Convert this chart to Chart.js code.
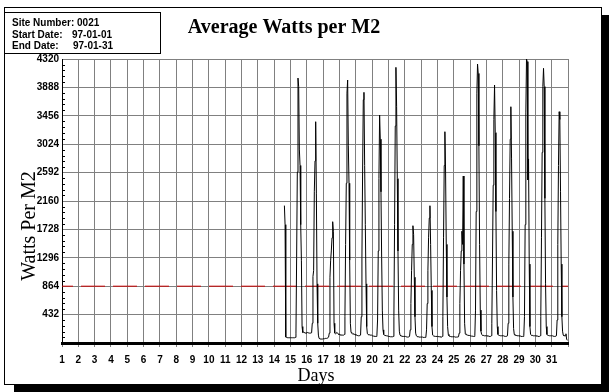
<!DOCTYPE html>
<html>
<head>
<meta charset="utf-8">
<script src="https://cdn.jsdelivr.net/npm/chart.js@4/dist/chart.umd.min.js"></script>
<style>
html,body{margin:0;padding:0;background:#fff;}
canvas{display:block;}
</style>
</head>
<body>
<canvas id="c" width="609" height="392"></canvas>
<script>
// ---- data (hourly averages, W/m2) ----
const chartTitle = "Average Watts per M2";
const yAxisTitle = "Watts Per M2";
const xAxisTitle = "Days";
const siteNumber = "0021";
const startDate = "97-01-01";
const endDate = "97-01-31";
const yTickValues = [432, 864, 1296, 1728, 2160, 2592, 3024, 3456, 3888, 4320];
const dayLabels = [1,2,3,4,5,6,7,8,9,10,11,12,13,14,15,16,17,18,19,20,21,22,23,24,25,26,27,28,29,30,31];
const referenceLevel = 864;

const firstDay = 14;
const firstHour = 15;
const d14 = [2090,1800,90,85,82,80,80,80,80];
const d15 = [80,80,80,80,80,80,80,85,150,1300,2600,4030,3900,2950,2700,1800,1260,250,160,165,160,155,150,150];
const d16 = [160,160,155,155,150,150,150,155,300,1010,1100,2300,2770,3366,2280,900,300,120,70,65,60,60,60,60];
const d17 = [65,65,65,70,70,70,75,80,90,150,1000,1260,1400,1600,1845,1700,300,150,140,150,160,150,140,130];
const d18 = [130,125,120,120,120,120,120,130,400,1500,2430,3800,4000,3000,2430,1260,300,160,150,140,140,135,130,130];
const d19 = [120,120,115,115,110,110,110,120,400,1300,2600,3700,3813,2700,1800,900,250,140,130,125,125,120,120,120];
const d20 = [110,110,105,105,100,100,100,110,350,1400,2500,3468,3100,2300,1300,500,200,130,120,115,115,110,110,110];
const d21 = [100,100,100,95,95,95,95,100,400,1800,3300,4193,3600,2500,1400,500,180,120,110,105,105,100,100,100];
const d22 = [100,100,95,95,90,90,90,100,200,600,1100,1500,1784,1650,1000,400,150,110,100,95,95,90,90,90];
const d23 = [90,90,90,85,85,85,85,90,200,600,1100,1600,1900,2088,1500,800,250,120,110,105,105,100,100,100];
const d24 = [100,100,95,95,95,90,90,100,400,1600,2700,3214,2600,1500,700,250,130,110,100,100,95,95,95,95];
const d25 = [95,95,90,90,90,90,90,95,150,600,1100,1400,1700,1500,2540,1200,300,140,130,125,120,120,115,115];
const d26 = [110,110,105,105,105,100,100,110,500,2000,3800,4243,4100,3000,1500,500,180,130,120,115,115,110,110,110];
const d27 = [110,110,105,105,100,100,100,110,300,1300,2400,3400,3924,3200,2000,800,250,130,120,115,115,110,110,110];
const d28 = [110,110,105,105,100,100,100,110,300,1200,2200,3100,3594,2800,1700,700,220,130,120,115,115,110,110,110];
const d29 = [110,105,105,100,100,100,100,110,400,1800,3500,4320,4280,2480,2800,1200,250,130,120,115,115,110,110,110];
const d30 = [110,110,105,105,100,100,100,110,400,1600,2900,3900,4178,3900,2200,900,250,130,120,115,115,110,110,110];
const d31 = [110,110,105,105,100,100,100,110,350,1500,2700,3518,3400,2300,1200,400,180,120,110,110,110,140,60,40];
const hourlyDays = [d14,d15,d16,d17,d18,d19,d20,d21,d22,d23,d24,d25,d26,d27,d28,d29,d30,d31];

// build points: x in days (day + hour/24)
const points = [];
hourlyDays.forEach((vals, i) => {
  const day = firstDay + i;
  const h0 = i === 0 ? firstHour : 0;
  vals.forEach((v, k) => points.push({x: day + (h0 + k) / 24, y: v}));
});
const refLine = [{x: 1, y: referenceLevel}, {x: 32, y: referenceLevel}];

const GRID = '#808080';
const tickFont = {family: 'Liberation Sans', size: 10, weight: 'bold'};

const decor = {
  id: 'decor',
  beforeDraw(chart) {
    const ctx = chart.ctx;
    ctx.save();
    ctx.fillStyle = '#fff';
    ctx.fillRect(0, 0, 609, 392);
    // shadow
    ctx.fillStyle = '#000';
    ctx.fillRect(601, 15, 8, 377);
    ctx.fillRect(14, 384, 595, 8);
    // frame
    ctx.strokeStyle = '#000';
    ctx.lineWidth = 1;
    ctx.strokeRect(4.5, 7.5, 597, 377);
    // info box
    ctx.strokeRect(4.5, 12.5, 156, 41);
    ctx.fillStyle = '#000';
    ctx.font = 'bold 10px "Liberation Sans"';
    ctx.textBaseline = 'alphabetic';
    ctx.textAlign = 'left';
    ctx.fillText('Site Number: ' + siteNumber, 12, 26);
    ctx.fillText('Start Date:', 12, 38);
    ctx.fillText(startDate, 72, 38);
    ctx.fillText('End Date:', 12, 49);
    ctx.fillText(endDate, 73, 49);
    // title
    ctx.font = 'bold 20px "Liberation Serif"';
    ctx.textAlign = 'center';
    ctx.fillText(chartTitle, 284, 33);
    // x title
    ctx.font = '18px "Liberation Serif"';
    ctx.fillText(xAxisTitle, 316, 381);
    // y title
    ctx.font = '20px "Liberation Serif"';
    ctx.translate(35, 226);
    ctx.rotate(-Math.PI / 2);
    ctx.fillText(yAxisTitle, 0, 0);
    ctx.restore();
  },
  afterDraw(chart) {
    const ctx = chart.ctx;
    const ys = chart.scales.y;
    const left = chart.chartArea.left;
    ctx.save();
    ctx.strokeStyle = '#000';
    ctx.lineWidth = 1;
    ctx.beginPath();
    for (let k = 1; k < 50; k++) {
      if (k % 5 === 0) continue;
      const y = Math.round(ys.getPixelForValue(k * 86.4)) + 0.5;
      ctx.moveTo(left, y);
      ctx.lineTo(left + 3, y);
    }
    ctx.stroke();
    ctx.restore();
  }
};

new Chart(document.getElementById('c'), {
  type: 'line',
  data: {
    datasets: [
      {data: refLine, borderColor: '#c80000', borderWidth: 1, borderDash: [24, 8], borderDashOffset: 13, pointRadius: 0, fill: false, order: 2},
      {data: points, borderColor: '#000', borderWidth: 1, pointRadius: 0, tension: 0, fill: false, order: 1}
    ]
  },
  options: {
    responsive: false,
    animation: false,
    events: [],
    layout: {padding: {top: 59, right: 41, left: 0, bottom: 0}},
    plugins: {legend: {display: false}, tooltip: {enabled: false}, title: {display: false}},
    scales: {
      x: {
        type: 'linear', min: 1, max: 32,
        afterFit(s) { s.height = 49; },
        afterBuildTicks(s) { s.ticks = dayLabels.concat([32]).map(v => ({value: v})); },
        grid: {color: GRID, lineWidth: 1, drawTicks: true, tickLength: 4, tickColor: GRID},
        border: {color: '#000', width: 3},
        ticks: {font: tickFont, color: '#000', padding: 7, maxRotation: 0, autoSkip: false,
          callback: v => (dayLabels.includes(v) ? String(v) : '')}
      },
      y: {
        type: 'linear', min: 0, max: 4320,
        afterFit(s) { s.width = 62; },
        afterBuildTicks(s) { s.ticks = [0].concat(yTickValues).map(v => ({value: v})); },
        grid: {color: GRID, lineWidth: 1, drawTicks: false},
        border: {color: '#000', width: 1},
        ticks: {font: tickFont, color: '#000', padding: 3,
          callback: v => (yTickValues.includes(v) ? String(v) : '')}
      }
    }
  },
  plugins: [decor]
});
</script>
</body>
</html>
